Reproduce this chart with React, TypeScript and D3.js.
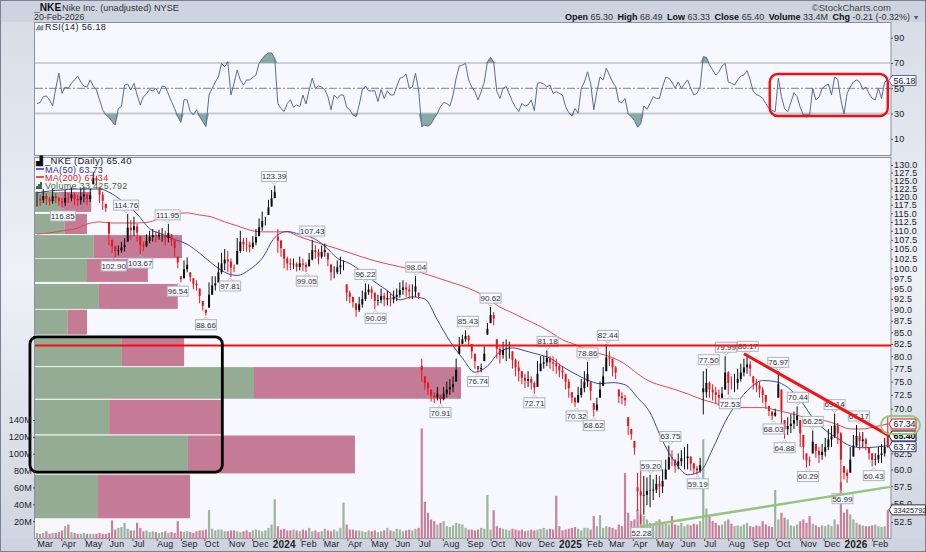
// App.tsx - NKE daily chart with RSI, volume and volume-by-price
import React, { useRef, useEffect } from 'react';
import * as d3 from 'd3';

const W = 926;
const H = 552;
const FONT = '"Liberation Sans", Arial, sans-serif';

// every series below holds one reading per 4 calendar days from the start date
const startDate = new Date(2023, 2, 1);
const stepDays = 4;
const maStepDays = 16;

const barHighs = [
  121.5,120.5,122.3,121,119.8,122.5,121,120,119.5,122,
  121,122.8,121.2,120.5,122.5,123,121,122.4,127.7,126.5,
  123,121.4,117.8,112.5,107.5,106,106,107,108,114.76,
  113,114,112,108.5,107,109,110,110.5,110,110.3,
  110.8,110,111.95,109,107.5,103,98,102,102.8,99,
  97.5,97,95,92,90,96.5,98,98,101.5,104,
  105,104.5,102.5,101,108,110,108,108,107,108.5,
  110.5,113.5,115.5,114,119,122,123.39,110.5,107.5,105,
  103,102.5,102.5,101.5,103,102.5,101.5,104,107.43,106,
  105,106,106.5,104,101,100.5,102,103,102,96,
  94.5,93,91.5,93,94.5,96.22,96,95.5,94,93.5,
  95,94,94.5,94,94.5,95,96.5,97,96.5,96,
  96,98.04,94,79.5,76,75,73.5,73,74,72.5,
  74,75,75.5,76,79.5,84,84.5,85.43,84.5,82.5,
  80.5,78,78.5,82,87,90.62,89.5,83.5,82,83,
  83.5,83,81,79.5,79,77,76.5,77,76,75,
  79,80,80,81.18,80,80,79.5,78.5,78,76.5,
  75.5,73,72,74,75.5,77,78.86,75,71,72,
  75,77.8,82.44,81,79.5,78,73.5,73,72.5,68.5,
  66.5,64.5,59.5,60,59,58.8,59.2,58.5,59.2,59,
  60,61.5,63.75,63,61.5,62.5,63,63.5,64,62,
  61,60.5,61.8,77,77.5,75,74.5,74,73.5,74,
  79.99,77,76,76.5,77.5,78.5,79.5,80.17,79,76,
  75.5,75,74,72.5,70.5,69.5,70,76.97,73.5,68,
  68.5,69,69.5,70.44,68,65.5,62.5,62,66.25,64,
  63.5,64,65,66.5,67,69.14,67.5,66,60.5,60,
  63.5,65.5,67.17,66,66,65,63.5,62.5,62.5,63.5,
  64,65,68.49,
];

const barLows = [
  117,117.2,118,117.5,117.3,117.8,118,117.2,116.85,117.1,
  118,118.5,117.4,117.2,117.5,118.2,117.4,118.3,123.8,123.6,
  118,116,115.4,106,104,102.9,103.3,104,104.3,107,
  107.5,108.5,107,103.67,104.5,105.5,106.5,107,106.8,107.5,
  107,106,106.8,105.8,103,100,96.54,97.5,99,96.7,
  94.8,94.5,91.5,89.8,88.66,90.5,93.5,94.5,96.5,98.5,
  99.5,99,97.81,99,101,104,104.5,104.3,104.1,105,
  106,108.5,110,111.5,114.5,117,119.5,104,103,100,
  99.5,99.5,99.8,99.2,99.5,99.3,99.05,100.5,102,102.5,
  101,102.5,103,100.5,97,97.5,98.5,98.5,99.5,92,
  91.5,90.5,88.4,89.5,90.5,92,93.5,92.5,90.09,91,
  91.5,90.8,91,90.8,91.5,92,92.8,93.5,93,92.5,
  92.5,93,92.5,75,73.5,72.5,71.3,71,71.5,70.91,
  71.5,72,72.5,73,75,80.5,82.5,83,82,79.5,
  77.5,76.74,76.8,79,84.5,87,86.5,79.5,78.5,79.5,
  79,79.5,77.5,76,75,74.5,73.8,74,73.5,72.71,
  74,77,77.5,78,77.5,77,76.5,75.8,75.5,73.5,
  72,71,70.32,71,72,73,74,71.5,68.62,69.5,
  72,74.2,77,78,76,75.5,71,70.8,70.5,65.5,
  64.7,62.3,54,52.28,53.5,54.8,54.5,55.5,56.5,55.9,
  56.5,58.5,60,60.5,59.5,60,60.5,60,60,59.8,
  59.3,59.19,59.5,69,72,72,71.5,71,70.5,71.5,
  73.5,72.53,73.5,73,73.5,75,76,76.5,76,73.5,
  73,72,71,70,68.7,68.03,68.6,72,66,64.88,
  65.5,65.8,66.5,67,63.5,61.5,60.29,60.5,62.5,61.8,
  61,61.5,62,63,63.5,65,64,56.99,58.5,58,
  59.5,62,63.5,63,63.5,63,61.5,60.43,60.6,61,
  61,62,63.33,
];

const lastChange = -0.21;

const volumes = [
  6,5,6,8,5,6,6,7,9,14,
  16,7,6,5,5,6,5,5,5,5,
  6,5,5,6,21,10,12,13,18,11,
  9,9,18,12,8,9,7,8,7,6,
  7,8,6,7,6,20,8,7,8,7,
  6,8,9,9,10,33,11,9,10,10,
  8,8,9,9,8,7,8,9,7,9,
  10,9,8,9,12,16,46,14,10,11,
  9,9,10,9,8,10,9,12,8,9,
  7,8,11,9,8,10,8,12,42,16,
  10,10,9,9,8,7,9,8,9,7,
  8,9,12,9,8,11,10,8,9,10,
  9,11,12,130,43,30,22,20,16,18,
  20,14,13,15,18,17,16,12,10,10,
  9,10,12,11,51,10,33,14,12,11,
  10,9,11,10,9,10,8,9,10,9,
  10,11,12,10,11,10,50,14,9,10,
  11,12,13,11,9,12,12,10,26,14,
  27,12,14,13,12,10,16,14,77,30,
  20,22,34,28,26,22,18,16,20,22,
  18,17,16,26,16,15,18,14,16,15,
  17,16,20,117,35,25,20,18,15,16,
  20,22,17,14,15,14,16,18,14,13,
  15,14,20,16,14,13,57,22,30,24,
  22,15,14,16,20,22,18,26,17,15,
  13,15,14,16,14,22,16,66,30,34,
  28,22,18,16,15,14,14,15,16,14,
  13,14,33.4,
];

const rsiValues = [
  38,38.7,43.4,44,40.8,36,50,62,46,51,
  50,54,56.6,59.7,55,51.8,51,56.6,51.8,48.7,
  40.8,33,29,27,23.7,21,34,35.5,52.6,53.4,
  48.7,54,44.7,36.8,43.4,45.5,49,48,50,45.5,
  51.8,51.3,45.5,39.5,34,27.6,23,41,40.8,31.6,
  29,33,27.6,23.7,19.7,44.7,50,55,59,69.7,
  67,71,44.7,54,64.5,56.6,52.6,56.6,56.6,58.7,
  60.5,69.7,73.4,76.3,78,78,73.7,38,34,31.6,
  38,41,35,36.8,35.5,44.7,37.6,48.7,58,50,
  51.8,51,49,43.4,33,44.7,42,44.7,44.7,35,
  33,29,27.6,36.8,48.7,51.8,48,48,48,39.5,
  49,42,48,44.7,44.7,51.3,58,58.7,61.3,50,
  51,61.8,48.7,19.7,21,20,22,26.3,30.3,35.5,
  38.7,38,36,44.7,58,67.6,68.4,69.7,56.6,51,
  47.4,40.8,47.4,55,71,74.5,71,47.4,42,50,
  51.3,45.5,39.5,35,31.6,38,36,36.8,40.8,32.4,
  54,54.5,53.4,51,52.6,46,47.4,46,44.7,35.5,
  30.8,28,34,30.3,50,55,63,54,33,47.4,
  59,56.6,65.8,60.5,55,51.3,39.5,38.7,42,29.7,
  27.6,24.5,19.2,22,36,33.4,38,43.4,42,42,
  51.3,58.7,58,55,50,55,50,53.4,56.6,50,
  44.7,46,51,75,74.5,68.4,64.5,60.5,63,67.6,
  69.7,55,54,52.6,56.6,59.7,60.5,64,56.6,47.4,
  45,44,42,38,34,32.4,31.6,58,43.4,34,
  31.6,38.7,46.6,43.4,35,29,27,29,50,40.8,
  43,50,51.8,53.4,44.7,59,57,40.8,29.7,46,
  51,55,56.6,55,49,51,46,42,40.8,50,
  42,55,56.18,
];

const ma50 = [
  121.1,121.7,122,122.3,122.3,122.3,120.8,118,114.8,110.6,
  109,107.6,106.3,103.9,101.2,99,98.2,99.7,102.6,108.1,
  109.8,109,108.1,105.8,102.6,101.2,99.1,96.6,94.5,92.3,
  93,92.5,87.7,83.1,79.6,76.8,78,80.9,81.7,81.1,
  80.4,79.6,77.9,76.5,75.3,74.6,74.8,74.4,72,69.3,
  64.5,61.1,59.2,59.7,63.2,67.7,71.2,73.8,75.2,75,
  73.9,71.6,68.4,66.3,64.9,63.7,63.4,63.5,63.73,
];

const ma200 = [
  109.1,109.4,110,110.5,111.9,112.5,112.2,112.2,112.2,112.5,
  113.9,114.8,115.1,114.5,113.9,112.5,111.4,110.2,109.7,109.7,
  109.7,108.3,107.2,106.1,105.1,104,102.9,101.9,101.1,100.4,
  99.6,98.6,97.6,96.6,95.6,94.4,92.7,90.6,89.3,87.9,
  86.6,85.1,83.4,82.4,81.3,80.5,79.7,78.4,76.5,75,
  74.2,73.5,72.7,71.8,71.1,70.5,70.2,70.2,70.2,69.8,
  69.3,68.7,68.2,67.9,67.2,66.5,66.5,66.9,67.34,
];

// volume by price zones: price range, up and down share of the longest zone
const zoneHigh = [121.4,114.8,108.8,102.4,96.1,90,84,77.8,71.6,65.4,59.2];
const zoneLow = [115.4,109.1,102.6,96.6,90.2,84.5,78,71.8,65.6,59.4,53];
const zoneUp = [5.9,7,13.8,12.2,15,7.7,20.4,51.4,17.4,35.9,14.8];
const zoneDown = [7.3,5.2,20.7,14.3,18.5,4.5,14.6,48.6,26.3,39.2,21.6];

// swing labels
const swingPrices = [
  116.85,114.76,111.95,102.9,103.67,96.54,88.66,97.81,123.39,107.43,
  99.05,96.22,90.09,98.04,90.62,85.43,76.74,81.18,78.86,82.44,
  72.71,70.32,68.62,70.91,59.2,63.75,59.19,52.28,77.5,79.99,
  80.17,72.53,76.97,70.44,68.03,64.88,66.25,60.29,69.14,67.17,
  60.43,56.99,
];
const swingDates = [
  '2023-04-03','2023-06-23','2023-08-15','2023-06-07','2023-07-11','2023-08-28','2023-10-03','2023-11-03','2023-12-29','2024-02-16',
  '2024-02-09','2024-04-24','2024-05-07','2024-06-28','2024-10-01','2024-09-02','2024-09-15','2024-12-13','2025-02-02','2025-02-28',
  '2024-11-26','2025-01-19','2025-02-10','2024-07-29','2025-04-24','2025-05-19','2025-06-23','2025-04-12','2025-07-07','2025-07-29',
  '2025-08-26','2025-08-03','2025-10-04','2025-10-29','2025-09-28','2025-10-12','2025-11-17','2025-11-11','2025-12-15','2026-01-15',
  '2026-02-03','2025-12-25',
];
const swingSides = 'LHHLLLLLHHLHLHHHLHHHLLLLHHLLHHHLHHLLHLHHLL';

// 67.5 and 65.0 sit behind the value tags in the reference, so they are left out
const priceTicks = [
  130,127.5,125,122.5,120,117.5,115,112.5,110,107.5,105,102.5,100,97.5,95,92.5,90,87.5,85,82.5,
  80,77.5,75,72.5,70,62.5,60,57.5,55,52.5,
];
const rsiTicks = [10,30,50,70,90];
const volumeTicks = [20,40,60,80,100,120,140];

// hand drawn annotations
const resistance = 82.2;
const redTrend = { from: ['2025-08-21', 80.5], to: ['2026-02-21', 65.5] };
const greenTrend = { from: ['2025-04-11', 51.9], to: ['2026-02-24', 57.4] };
const rsiBox = { from: '2025-09-23', to: '2026-02-21', top: 61.3, bottom: 28.1 };
const vbpBox = { from: '2023-02-20', to: '2023-10-24', top: 84, bottom: 59.6 };

const parseDay = d3.timeParse('%Y-%m-%d');
const dayOf = (s: string) => parseDay(s) as Date;
const barDate = (i: number) => d3.timeDay.offset(startDate, i * stepDays);
const maDate = (i: number) => d3.timeDay.offset(startDate, i * maStepDays);

const x = d3.scaleTime().domain([startDate, new Date(2026, 1, 21)]).range([37, 887.8]);
const y = d3.scaleLog().domain([130, 52.5]).range([165, 522]);
const yRsi = d3.scaleLinear().domain([90, 10]).range([37.7, 138.9]);
const yVol = d3.scaleLinear().domain([0, 140]).range([538, 420]);
const xZone = d3.scaleLinear().domain([0, 100]).range([35, 461]);

const isDown = (i: number) => {
  if (i === barHighs.length - 1) return lastChange < 0;
  if (i === 0) return false;
  return barHighs[i] + barLows[i] < barHighs[i - 1] + barLows[i - 1];
};

const maLine = d3.line<number>()
  .x((_, i) => x(maDate(i)))
  .y(d => y(d))
  .curve(d3.curveMonotoneX);

const rsiLine = d3.line<number>()
  .x((_, i) => x(barDate(i)))
  .y(d => yRsi(d));

const rsiOver = d3.area<number>()
  .x((_, i) => x(barDate(i)))
  .y0(yRsi(70))
  .y1(d => yRsi(Math.max(d, 70)));

const rsiUnder = d3.area<number>()
  .x((_, i) => x(barDate(i)))
  .y0(yRsi(30))
  .y1(d => yRsi(Math.min(d, 30)));

const Tag: React.FC<{ py: number; label: string; color: string; bold?: boolean; width?: number; size?: number }> = ({ py, label, color, bold, width = 24, size = 8.8 }) => (
  <g>
    <path d={`M889,${py} L892,${py - 5} H${892 + width} V${py + 5} H892 Z`} fill="#f7f9fd" stroke={color} strokeWidth={1} />
    <text x={893.5} y={py + 3.1} fontSize={size} fontWeight={bold ? 700 : 400} fill={bold ? '#000' : '#222'}>{label}</text>
  </g>
);

const App: React.FC = () => {
  const priceAxis = useRef<SVGGElement>(null);
  const rsiAxis = useRef<SVGGElement>(null);
  const volAxis = useRef<SVGGElement>(null);
  const timeAxis = useRef<SVGGElement>(null);

  useEffect(() => {
    const style = (g: d3.Selection<SVGGElement, unknown, null, undefined>) => {
      g.select('.domain').remove();
      g.selectAll('text').attr('font-family', FONT).attr('font-size', 9).attr('fill', '#222').attr('letter-spacing', 0.2);
      g.selectAll('line').attr('stroke', '#555');
    };

    const p = d3.select(priceAxis.current as SVGGElement);
    p.call(d3.axisRight(y).tickValues(priceTicks).tickFormat(d => d3.format('.1f')(d as number)).tickSize(2).tickPadding(1));
    style(p);

    const r = d3.select(rsiAxis.current as SVGGElement);
    r.call(d3.axisRight(yRsi).tickValues(rsiTicks).tickFormat(d => String(d)).tickSize(2).tickPadding(1));
    style(r);

    const v = d3.select(volAxis.current as SVGGElement);
    v.call(d3.axisLeft(yVol).tickValues(volumeTicks).tickFormat(d => `${d}M`).tickSize(2).tickPadding(1));
    style(v);

    const t = d3.select(timeAxis.current as SVGGElement);
    t.call(d3.axisBottom(x)
      .tickValues(d3.timeMonth.range(new Date(2023, 2, 1), new Date(2026, 2, 1)))
      .tickFormat(d => ((d as Date).getMonth() === 0 ? d3.timeFormat('%Y')(d as Date) : d3.timeFormat('%b')(d as Date)))
      .tickSize(2).tickPadding(0));
    style(t);
    t.selectAll<SVGTextElement, Date>('text')
      .attr('text-anchor', 'start')
      .attr('dx', d => (d.getMonth() === 0 ? -4 : 0))
      .attr('font-weight', d => (d.getMonth() === 0 ? 700 : 400))
      .attr('font-size', d => (d.getMonth() === 0 ? 10 : 8.8));
  }, []);

  return (
    <svg width={W} height={H} style={{ position: 'absolute', left: 0, top: 0 }} fontFamily={FONT}>
      <defs>
        <linearGradient id="side" x1="0" y1="0" x2="0" y2="1">
          <stop offset="0" stopColor="#d6dbe5" />
          <stop offset="0.5" stopColor="#eef1f7" />
          <stop offset="1" stopColor="#ced4e0" />
        </linearGradient>
        <clipPath id="plot"><rect x={35} y={157} width={856} height={382} /></clipPath>
      </defs>

      <rect width={W} height={H} fill="url(#side)" />
      <rect width={W} height={22} fill="#cdd3df" />
      <rect y={539} width={W} height={13} fill="#cdd3df" />
      <rect x={0.5} y={0.5} width={W - 1} height={H - 1} fill="none" stroke="#7b8294" />

      {/* panels */}
      <rect x={34.5} y={22.5} width={856.5} height={133} fill="#f6f8fd" stroke="#8a90a0" />
      <rect x={34.5} y={157.5} width={856.5} height={381} fill="#f6f8fd" stroke="#8a90a0" />

      {/* header */}
      <text x={34} y={11} fontSize={10.2} fontWeight={700} fill="#111">_NKE</text>
      <text x={62} y={10.5} fontSize={9.2} fill="#333">Nike Inc. (unadjusted) NYSE</text>
      <text x={34} y={20} fontSize={8.8} fill="#333">20-Feb-2026</text>
      <text x={891} y={10.5} fontSize={9.5} textAnchor="end" fill="#444">©StockCharts.com</text>
      <text x={565} y={20} fontSize={9} fill="#333">
        <tspan fontWeight={700} fill="#111">Open</tspan> 65.30 <tspan fontWeight={700} fill="#111" dx={2}>High</tspan> 68.49 <tspan fontWeight={700} fill="#111" dx={2}>Low</tspan> 63.33 <tspan fontWeight={700} fill="#111" dx={2}>Close</tspan> 65.40 <tspan fontWeight={700} fill="#111" dx={2}>Volume</tspan> 33.4M <tspan fontWeight={700} fill="#111" dx={2}>Chg</tspan> -0.21 (-0.32%) <tspan fill="#3a5a8c" fontSize={7}>▼</tspan>
      </text>

      {/* RSI */}
      <line x1={35} x2={891} y1={yRsi(70)} y2={yRsi(70)} stroke="#bfc3cc" strokeWidth={1.3} />
      <line x1={35} x2={891} y1={yRsi(30)} y2={yRsi(30)} stroke="#c6c9d1" strokeWidth={2} />
      <line x1={35} x2={891} y1={yRsi(50)} y2={yRsi(50)} stroke="#666" strokeWidth={0.8} strokeDasharray="8 2 2 2" />
      <path d={rsiOver(rsiValues) ?? ''} fill="#86aba3" />
      <path d={rsiUnder(rsiValues) ?? ''} fill="#86aba3" />
      <path d={rsiLine(rsiValues) ?? ''} fill="none" stroke="#5c699f" strokeWidth={1} />
      <path d="M36,30 L39,25 L41,27 L43,25 V30 Z" fill="#86aba3" stroke="#5c699f" strokeWidth={0.5} />
      <text x={45} y={30} fontSize={9} letterSpacing={0.4} fill="#222">RSI(14) 56.18</text>
      <g ref={rsiAxis} transform="translate(891,0)" />
      <rect
        x={x(dayOf(rsiBox.from))}
        y={yRsi(rsiBox.top)}
        width={x(dayOf(rsiBox.to)) - x(dayOf(rsiBox.from))}
        height={yRsi(rsiBox.bottom) - yRsi(rsiBox.top)}
        rx={8}
        fill="none"
        stroke="#ee0f0f"
        strokeWidth={2.4}
      />
      <Tag py={yRsi(56.18)} label="56.18" color="#5c699f" />

      {/* main plot */}
      <g clipPath="url(#plot)">
        {zoneUp.map((u, i) => (
          <g key={i}>
            <rect x={xZone(0)} y={y(zoneHigh[i])} width={xZone(u) - xZone(0)} height={y(zoneLow[i]) - y(zoneHigh[i])} fill="#94ab94" />
            <rect x={xZone(u)} y={y(zoneHigh[i])} width={xZone(u + zoneDown[i]) - xZone(u)} height={y(zoneLow[i]) - y(zoneHigh[i])} fill="#c57a96" />
          </g>
        ))}
        {volumes.map((v, i) => (
          <rect key={i} x={x(barDate(i)) - 1.1} y={yVol(v)} width={2.2} height={yVol(0) - yVol(v) + 1} fill={isDown(i) ? '#c9809b' : '#9db39d'} />
        ))}
        <path d={maLine(ma200) ?? ''} fill="none" stroke="#e2494b" strokeWidth={1} />
        <path d={maLine(ma50) ?? ''} fill="none" stroke="#3d48a6" strokeWidth={1} />
        {barHighs.map((h, i) => {
          const color = isDown(i) ? '#e8141c' : '#0d0d0d';
          const mid = (h + barLows[i]) / 2;
          const prevMid = i > 0 ? (barHighs[i - 1] + barLows[i - 1]) / 2 : mid;
          const gap = Math.abs(mid - prevMid) / mid > 0.08;
          const open = gap ? mid * 1.01 : prevMid;
          return (
            <g key={i}>
              <line x1={x(barDate(i))} x2={x(barDate(i))} y1={y(h)} y2={y(barLows[i])} stroke={color} strokeWidth={1} />
              <line x1={x(barDate(i))} x2={x(barDate(i))} y1={y(Math.min(Math.max(open, barLows[i]), h))} y2={y(mid)} stroke={color} strokeWidth={2} />
            </g>
          );
        })}
      </g>

      {/* swing labels */}
      {swingPrices.map((p, i) => {
        const px = x(dayOf(swingDates[i]));
        const py = y(p);
        const low = swingSides[i] === 'L';
        const cy = low ? py + 9 : py - 9;
        const label = d3.format('.2f')(p);
        const w = label.length > 5 ? 25 : 21;
        return (
          <g key={i}>
            <path d={low ? `M${px - 3},${cy - 5} L${px},${py + 1} L${px + 3},${cy - 5}` : `M${px - 3},${cy + 5} L${px},${py - 1} L${px + 3},${cy + 5}`} fill="none" stroke="#b5b9c4" strokeWidth={0.8} />
            <rect x={px - w / 2} y={cy - 5} width={w} height={10} fill="#f7f9fd" stroke="#b0b4bf" strokeWidth={1} />
            <text x={px} y={cy + 2.9} fontSize={8} textAnchor="middle" fill="#333">{label}</text>
          </g>
        );
      })}

      {/* drawn over the labels, as in the reference */}
      <g clipPath="url(#plot)">
        <line x1={35} x2={891} y1={y(resistance)} y2={y(resistance)} stroke="#f40f0f" strokeWidth={2} />
        <line
          x1={x(dayOf(greenTrend.from[0] as string))}
          y1={y(greenTrend.from[1] as number)}
          x2={x(dayOf(greenTrend.to[0] as string))}
          y2={y(greenTrend.to[1] as number)}
          stroke="#96c47c"
          strokeWidth={2.5}
        />
        <line
          x1={x(dayOf(redTrend.from[0] as string))}
          y1={y(redTrend.from[1] as number)}
          x2={x(dayOf(redTrend.to[0] as string))}
          y2={y(redTrend.to[1] as number)}
          stroke="#f01414"
          strokeWidth={3}
        />
      </g>
      <rect
        x={x(dayOf(vbpBox.from))}
        y={y(vbpBox.top)}
        width={x(dayOf(vbpBox.to)) - x(dayOf(vbpBox.from))}
        height={y(vbpBox.bottom) - y(vbpBox.top)}
        rx={7}
        fill="none"
        stroke="#000"
        strokeWidth={2.8}
      />

      {/* axes */}
      <g ref={priceAxis} transform="translate(891,0)" />
      <g ref={volAxis} transform="translate(35,0)" />
      <g ref={timeAxis} transform="translate(0,539)" />

      {/* legend */}
      <text x={36} y={164} fontSize={9} fill="#111">▟</text>
      <text x={45} y={164} fontSize={9.5} letterSpacing={0.3} fill="#222">_NKE (Daily) 65.40</text>
      <line x1={36} x2={44} y1={169} y2={169} stroke="#2b35a0" strokeWidth={1.5} />
      <text x={45} y={172.5} fontSize={9} letterSpacing={0.3} fill="#2b35a0">MA(50) 63.73</text>
      <line x1={36} x2={44} y1={177} y2={177} stroke="#e01a1a" strokeWidth={1.5} />
      <text x={45} y={180.5} fontSize={9} letterSpacing={0.3} fill="#e01a1a">MA(200) 67.34</text>
      <path d="M36,189 V186 H38 V184 H40 V182 H42 V189 Z" fill="#3f6a3f" />
      <text x={45} y={189} fontSize={9} letterSpacing={0.3} fill="#3c6a3c">Volume 33,425,792</text>

      {/* right side value tags */}
      <Tag py={y(67.34)} label="67.34" color="#e01a1a" />
      <Tag py={y(65.4) + 0.5} label="65.40" color="#111" bold />
      <Tag py={y(63.73) + 1} label="63.73" color="#2b35a0" />
      <Tag py={yVol(33.4)} label="33425792" color="#333" width={33.5} size={7.4} />
      <rect x={881} y={416} width={39} height={18} rx={9} fill="none" stroke="#9dc77f" strokeWidth={2} />
    </svg>
  );
};

export default App;
